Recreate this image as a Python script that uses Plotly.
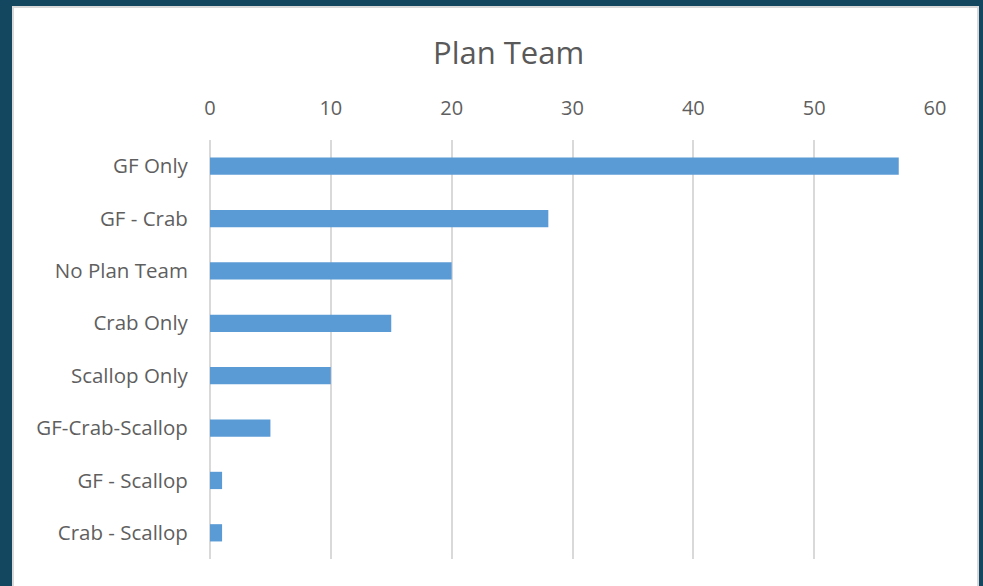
import plotly.graph_objects as go

categories = ["GF Only", "GF - Crab", "No Plan Team", "Crab Only", "Scallop Only",
              "GF-Crab-Scallop", "GF - Scallop", "Crab - Scallop"]
values = [57, 28, 20, 15, 10, 5, 1, 1]
x_ticks = [0, 10, 20, 30, 40, 50, 60]

W, H = 983, 586
L, R, T, B = 210, 48, 140, 27
pw, ph = W - L - R, H - T - B
BG = "#13475f"

def px_x(p):
    return (p - L) / pw

def px_y(p):
    return (H - B - p) / ph

fig = go.Figure(go.Bar(
    x=values, y=categories, orientation="h",
    marker=dict(color="#5b9bd5", line=dict(width=0)),
    hoverinfo="x+y",
))

fig.update_layout(
    width=W, height=H,
    margin=dict(l=L, r=R, t=T, b=B),
    paper_bgcolor=BG,
    plot_bgcolor="white",
    bargap=0.67,
    showlegend=False,
    font=dict(family="Open Sans, Noto Sans, sans-serif", color="#595959"),
    shapes=[dict(type="rect", xref="paper", yref="paper",
                 x0=px_x(13), x1=px_x(978), y0=px_y(600), y1=px_y(7),
                 fillcolor="white", line=dict(color="#d9d9d9", width=2),
                 layer="below")],
    annotations=[dict(text="Plan Team", xref="paper", yref="paper",
                      x=px_x(508), y=px_y(52), showarrow=False,
                      xanchor="center", yanchor="middle",
                      font=dict(size=31, color="#595959"))],
)

fig.update_xaxes(
    side="top", range=[0, 60], tickvals=x_ticks,
    showgrid=True, gridcolor="#d9d9d9", gridwidth=2,
    zeroline=True, zerolinecolor="#d9d9d9", zerolinewidth=2,
    showline=False, ticks="outside", ticklen=16, tickcolor="rgba(0,0,0,0)",
    tickfont=dict(size=20, color="#5f5f5f"), fixedrange=True,
)
fig.update_yaxes(
    autorange="reversed", showgrid=False, zeroline=False, showline=False,
    ticks="outside", ticklen=17, tickcolor="rgba(0,0,0,0)",
    tickfont=dict(size=20.5, color="#5f5f5f"), fixedrange=True,
)

post = ("document.body.style.margin='0';document.body.style.overflow='hidden';"
        "document.body.style.background='" + BG + "';")
fig.write_html("out.html", post_script=post, config={"displayModeBar": False})
